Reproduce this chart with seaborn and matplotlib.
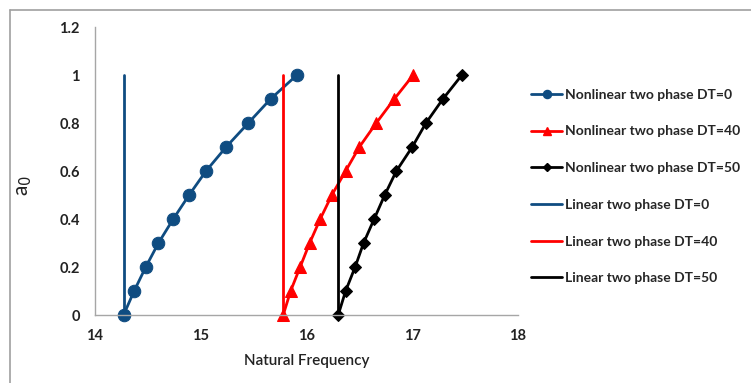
import matplotlib
matplotlib.use("Agg")
import matplotlib.pyplot as plt
import seaborn as sns
import pandas as pd
from matplotlib.lines import Line2D

# ---- data ----
a0 = [0.0, 0.1, 0.2, 0.3, 0.4, 0.5, 0.6, 0.7, 0.8, 0.9, 1.0]
nl_dt0 = [14.27, 14.37, 14.48, 14.60, 14.74, 14.89, 15.05, 15.24, 15.45, 15.66, 15.91]
nl_dt40 = [15.78, 15.85, 15.94, 16.03, 16.13, 16.24, 16.37, 16.50, 16.66, 16.83, 17.01]
nl_dt50 = [16.30, 16.37, 16.46, 16.54, 16.64, 16.74, 16.85, 17.00, 17.13, 17.29, 17.47]
lin_freq = [14.27, 15.78, 16.30]
lin_a0 = [0.0, 1.0]
nl_labels = ["Nonlinear two phase DT=0", "Nonlinear two phase DT=40", "Nonlinear two phase DT=50"]
lin_labels = ["Linear two phase DT=0", "Linear two phase DT=40", "Linear two phase DT=50"]
colors = ["#0F4C81", "#FF0000", "#000000"]
markers = ["o", "^", "D"]
msizes = [9, 8.5, 6.5]
xticks = [14, 15, 16, 17, 18]
yticks = [0, 0.2, 0.4, 0.6, 0.8, 1, 1.2]
ytick_labels = ["0", "0.2", "0.4", "0.6", "0.8", "1", "1.2"]

sns.set_theme(style="white")
plt.rcParams["font.family"] = ["Lato", "DejaVu Sans"]

fig = plt.figure(figsize=(7.51, 3.83), dpi=100)
ax = fig.add_axes([0.1265, 0.1775, 0.5632, 0.752])

handles = []
for xs, lab, c, m, ms in zip([nl_dt0, nl_dt40, nl_dt50], nl_labels, colors, markers, msizes):
    df = pd.DataFrame({"freq": xs, "a0": a0})
    sns.lineplot(data=df, x="freq", y="a0", ax=ax, color=c, marker=m, markersize=ms,
                 markeredgecolor=c, linewidth=2.0, sort=False, estimator=None, label=lab,
                 legend=False)
    handles.append(Line2D([], [], color=c, marker=m, markersize=ms * 0.65, linewidth=2.0,
                          markeredgecolor=c, label=lab))
for f, lab, c in zip(lin_freq, lin_labels, colors):
    df = pd.DataFrame({"freq": [f, f], "a0": lin_a0})
    sns.lineplot(data=df, x="freq", y="a0", ax=ax, color=c, linewidth=2.0, sort=False,
                 estimator=None, label=lab, legend=False)
    handles.append(Line2D([], [], color=c, linewidth=2.0, label=lab))

ax.set_xlim(14, 18)
ax.set_ylim(0, 1.2)
ax.set_xticks(xticks)
ax.set_xticklabels([str(t) for t in xticks], fontsize=10.5, fontweight="bold", color="#222222")
ax.set_yticks(yticks)
ax.set_yticklabels(ytick_labels, fontsize=10.5, fontweight="bold", color="#222222")
ax.tick_params(axis="x", length=0, pad=10)
ax.tick_params(axis="y", length=0, pad=11)
for s in ["top", "right"]:
    ax.spines[s].set_visible(False)
for s in ["left", "bottom"]:
    ax.spines[s].set_color("#A6A6A6")
    ax.spines[s].set_linewidth(1.0)
for a in ax.lines:
    a.set_clip_on(False)
ax.set_xlabel("Natural Frequency", fontsize=11, fontweight="semibold", color="#222222", labelpad=8)
ax.set_ylabel("a$_0$", fontsize=15, color="#222222", rotation=90)
ax.yaxis.set_label_coords(-0.145, 0.45)

fig.legend(handles=handles, loc="upper left", bbox_to_anchor=(0.700, 0.783), frameon=False,
           prop={"weight": "bold", "size": 10}, handlelength=2.2,
           handletextpad=0.2, labelspacing=1.78, borderaxespad=0)

# outer frame (top and left)
fig.add_artist(Line2D([10 / 751, 1.0], [1 - 10 / 383, 1 - 10 / 383], color="#A0A0A0", linewidth=1.2))
fig.add_artist(Line2D([10 / 751, 10 / 751], [0.0, 1 - 10 / 383], color="#A0A0A0", linewidth=1.2))

fig.savefig("out.png", dpi=100)
